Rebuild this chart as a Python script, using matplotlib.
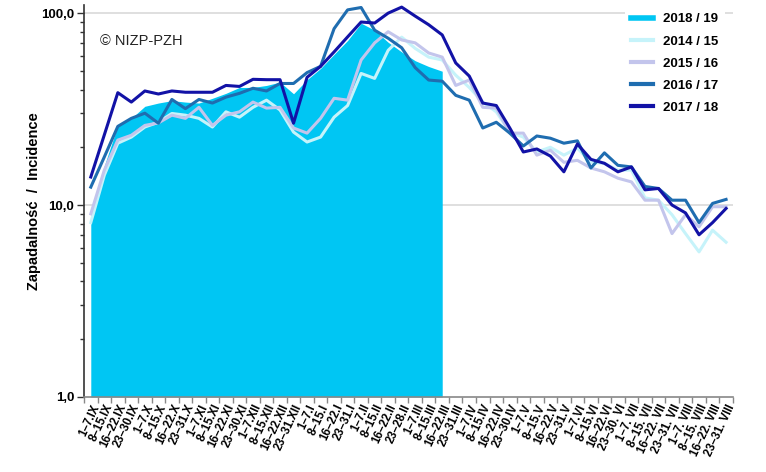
import numpy as np
import matplotlib
matplotlib.use('Agg')
import matplotlib.pyplot as plt
from matplotlib.lines import Line2D
from matplotlib.ticker import FixedLocator, NullFormatter

plt.rcParams['font.family'] = ['Liberation Sans', 'DejaVu Sans']

# weekly periods, September -> August
months = ['IX', 'X', 'XI', 'XII', 'I', 'II', 'III', 'IV', 'V', 'VI', 'VII', 'VIII']
month_end = {'IX': '30', 'X': '31', 'XI': '30', 'XII': '31', 'I': '31', 'II': '28',
             'III': '31', 'IV': '30', 'V': '31', 'VI': '30', 'VII': '31', 'VIII': '31'}
labels = []
for m in months:
    sep = '. ' if m in ('VII', 'VIII') else '.'
    last_sep = '. ' if m in ('VI', 'VII', 'VIII') else '.'
    labels += ['1–7' + sep + m, '8–15' + sep + m, '16–22' + sep + m,
               '23–' + month_end[m] + last_sep + m]

# incidence per 100 000
inc_2018_19 = [8.2, 16.0, 26.0, 28.3, 32.7, 34.0, 35.0, 34.4, 34.0, 36.0,
               38.2, 41.0, 41.0, 42.0, 43.7, 38.0, 45.0, 51.5, 61.0, 72.0,
               88.6, 81.5, 70.5, 62.8, 56.5, 52.7, 49.8]

inc_2014_15 = [8.1, 14.3, 21.0, 22.6, 25.5, 27.0, 30.0, 29.4, 28.3, 25.5,
               30.6, 28.7, 32.3, 35.2, 31.3, 24.0, 21.3, 22.6, 28.7, 33.0,
               48.5, 45.7, 64.0, 75.0, 65.5, 59.0, 57.0, 47.5, 41.0, 34.4,
               30.6, 24.0, 22.6, 18.9, 20.0, 18.2, 19.8, 16.7, 16.5, 15.2,
               15.2, 10.9, 10.6, 8.9, 7.1, 5.7, 7.4, 6.4]

inc_2015_16 = [9.0, 15.2, 21.8, 23.1, 26.0, 26.8, 29.4, 28.3, 32.3, 26.0,
               29.4, 30.6, 34.4, 32.0, 32.3, 25.2, 23.7, 28.3, 36.0, 35.2,
               57.0, 70.0, 80.0, 72.5, 70.0, 62.0, 59.0, 42.0, 44.8, 32.3,
               32.0, 23.7, 23.7, 18.2, 19.3, 16.7, 17.1, 15.6, 14.9, 13.8,
               13.2, 10.6, 10.6, 7.1, 8.9, 7.7, 9.8, 9.8]

inc_2016_17 = [12.4, 17.8, 25.7, 28.3, 30.1, 26.7, 35.5, 31.8, 35.5, 34.0,
               36.5, 38.2, 40.6, 39.3, 43.0, 43.0, 49.0, 52.8, 83.0, 104.0,
               107.0, 81.5, 74.0, 66.0, 52.0, 44.8, 44.2, 37.3, 35.2, 25.2,
               27.0, 23.7, 20.3, 22.9, 22.3, 21.0, 21.6, 15.6, 18.7, 16.1,
               15.8, 12.5, 12.2, 10.6, 10.6, 8.1, 10.2, 10.7]

inc_2017_18 = [14.0, 23.2, 38.5, 34.4, 39.3, 37.9, 39.3, 38.7, 38.7, 38.7,
               42.0, 41.5, 45.2, 45.0, 45.0, 26.7, 46.3, 52.8, 62.8, 75.2,
               89.9, 88.8, 100.0, 107.5, 96.5, 87.0, 77.0, 55.0, 47.0, 34.0,
               33.0, 25.2, 18.9, 19.6, 18.0, 14.9, 20.8, 17.3, 16.5, 14.9,
               15.8, 12.0, 12.2, 10.0, 9.1, 7.0, 8.1, 9.6]

x = np.arange(len(labels))

fig = plt.figure(figsize=(7.66, 4.72), dpi=100)
ax = fig.add_axes([0.1097, 0.159, 0.847, 0.830])

ax.fill_between(x[:len(inc_2018_19)], inc_2018_19, 1, color='#00c6f3', lw=0, zorder=2)
ax.plot(x, inc_2014_15, color='#c6f3fa', lw=2.2, zorder=3)
ax.plot(x, inc_2015_16, color='#c3c5ec', lw=2.2, zorder=4)
ax.plot(x, inc_2016_17, color='#1f6db0', lw=2.2, zorder=5)
ax.plot(x, inc_2017_18, color='#1212a6', lw=2.2, zorder=6)

ax.set_yscale('log')
ax.set_ylim(1, 110)
ax.set_xlim(-0.5, len(labels) - 0.5)

for v in (10, 100):
    ax.axhline(v, color='#d9d9d9', lw=1.2, zorder=1)

ax.set_yticks([1, 10, 100])
ax.set_yticklabels(['1,0', '10,0', '100,0'], fontsize=9.5, fontweight='bold')
ax.yaxis.set_minor_locator(FixedLocator([m * 10 ** e for e in range(0, 2) for m in range(2, 10)]))
ax.yaxis.set_minor_formatter(NullFormatter())
ax.tick_params(axis='y', which='major', length=5, width=1, color='#333333', pad=2)
ax.tick_params(axis='y', which='minor', length=3, width=1, color='#333333')

ax.set_xticks(x)
ax.set_xticklabels(labels, rotation=65, ha='right', va='top', rotation_mode='anchor',
                   fontsize=8.3, fontweight='bold')
ax.set_xticks(np.arange(-0.5, len(labels)), minor=True)
ax.tick_params(axis='x', which='major', length=0, pad=4)
ax.tick_params(axis='x', which='minor', length=4, width=1, color='#888888')

for s in ('top', 'right'):
    ax.spines[s].set_visible(False)
ax.spines['left'].set_color('#333333')
ax.spines['bottom'].set_color('#888888')
ax.spines['left'].set_linewidth(1.2)
ax.spines['bottom'].set_linewidth(1.2)

ax.set_ylabel('Zapadalność  /  Incidence', fontsize=10.5, fontweight='bold')
ax.yaxis.set_label_coords(-0.066, 0.5)

fig.text(0.130, 0.905, '© NIZP-PZH', fontsize=10.5, color='#222222')

handles = [Line2D([], [], color='#00c6f3', lw=4),
           Line2D([], [], color='#c6f3fa', lw=3),
           Line2D([], [], color='#c3c5ec', lw=3),
           Line2D([], [], color='#1f6db0', lw=3),
           Line2D([], [], color='#1212a6', lw=3)]
names = ['2018 / 19', '2014 / 15', '2015 / 16', '2016 / 17', '2017 / 18']
leg = fig.legend(handles, names, loc='upper right', bbox_to_anchor=(0.955, 1.0),
                 frameon=True, facecolor='white', edgecolor='none', framealpha=1,
                 prop={'weight': 'bold', 'size': 9.5}, handlelength=1.6,
                 labelspacing=0.75, borderpad=0.5)
leg.set_zorder(10)

fig.savefig('out.png', dpi=100, facecolor='white')
